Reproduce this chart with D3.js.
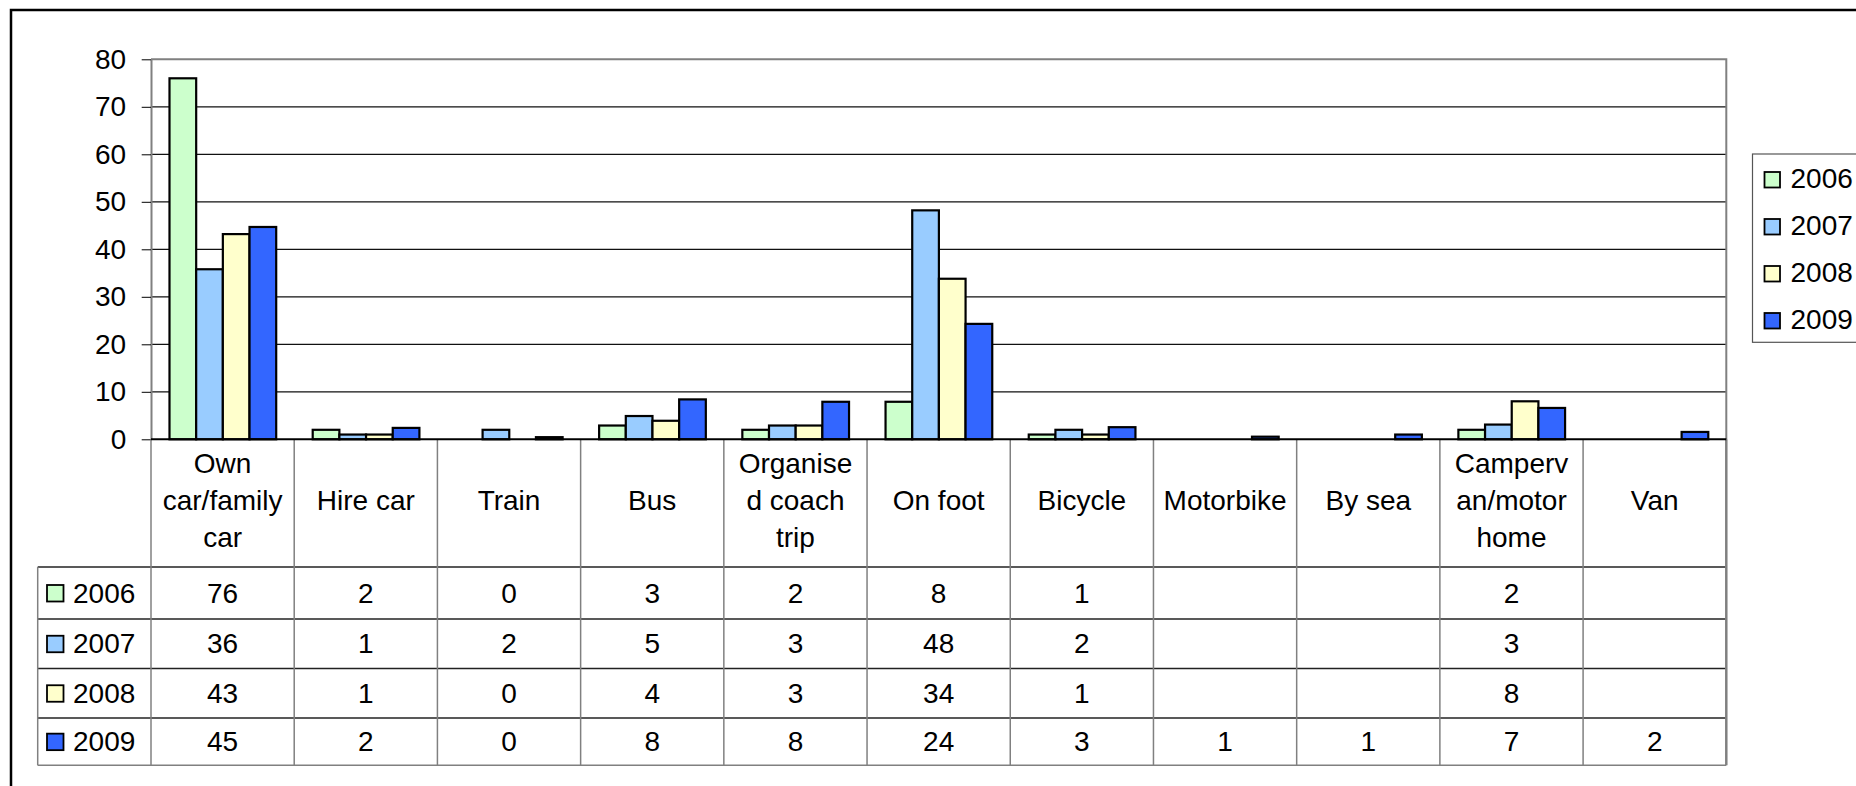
<!DOCTYPE html>
<html>
  <head>
    <meta charset="utf-8">
    <script type="text/javascript" src="https://d3js.org/d3.v7.min.js"></script>
    <title></title>
  </head>
  <style media="screen">
    body { margin: 0; background: #fff; }
    text { font-family: "Liberation Sans", Arial, sans-serif; fill: #000; }
  </style>
  <body>

    <script type="text/javascript">

    // categories, split into the lines they show in the table header
    var categories = ["Own car/family car", "Hire car", "Train", "Bus", "Organised coach trip",
                      "On foot", "Bicycle", "Motorbike", "By sea", "Campervan/motor home", "Van"];
    var categoryLines = [["Own", "car/family", "car"], ["Hire car"], ["Train"], ["Bus"],
                         ["Organise", "d coach", "trip"], ["On foot"], ["Bicycle"], ["Motorbike"],
                         ["By sea"], ["Camperv", "an/motor", "home"], ["Van"]];

    var years = ["2006", "2007", "2008", "2009"];
    var colors = ["#CCFFCC", "#99CCFF", "#FFFFCC", "#3366FF"];

    // values as plotted (table shows them rounded), null = no entry
    var values2006 = [76, 2, 0, 2.9, 2, 7.9, 1, null, null, 2, null];
    var values2007 = [35.8, 1, 2, 4.9, 2.9, 48.2, 2, null, null, 3.1, null];
    var values2008 = [43.2, 1, 0, 3.9, 2.9, 33.8, 1, null, null, 8, null];
    var values2009 = [44.7, 2.4, 0.45, 8.4, 7.9, 24.3, 2.55, 0.55, 1, 6.6, 1.55];
    var series = [values2006, values2007, values2008, values2009];

    var yTicks = [0, 10, 20, 30, 40, 50, 60, 70, 80];

    var plot = {left: 151, right: 1726.3, top: 59.3, bottom: 439.3};
    var tableLeft = 37.7;
    var rowLines = [567, 619, 668.5, 718, 765.3];
    var fontSize = 28;

    var fmt = d3.format(".0f");

    var svg = d3.select("body").append("svg")
        .attr("width", 1856)
        .attr("height", 786);

    var x = d3.scaleBand().domain(categories).range([plot.left, plot.right]);
    var x1 = d3.scaleBand().domain(years).range([18.5, 125.2]);
    var y = d3.scaleLinear().domain([0, 80]).range([plot.bottom, plot.top]);

    // outer frame (runs off the right and bottom edge)
    svg.append("rect")
        .attr("x", 11).attr("y", 10)
        .attr("width", 1900).attr("height", 900)
        .attr("fill", "none").attr("stroke", "#000").attr("stroke-width", 2.5);

    // gridlines
    svg.append("g").selectAll("line")
        .data(yTicks.filter(function(d) { return d > 0 && d < 80; }))
      .enter().append("line")
        .attr("x1", plot.left).attr("x2", plot.right)
        .attr("y1", function(d) { return y(d); })
        .attr("y2", function(d) { return y(d); })
        .attr("stroke", "#111").attr("stroke-width", 1.2);

    // plot border top & right
    svg.append("path")
        .attr("d", "M" + plot.left + "," + plot.top + "H" + plot.right + "V" + plot.bottom)
        .attr("fill", "none").attr("stroke", "#808080").attr("stroke-width", 2);

    // bars
    var groups = svg.append("g").selectAll("g")
        .data(categories)
      .enter().append("g")
        .attr("transform", function(d) { return "translate(" + x(d) + ",0)"; });

    groups.selectAll("rect")
        .data(function(d, i) {
          return years.map(function(yr, j) { return {year: yr, color: colors[j], value: series[j][i]}; })
            .filter(function(e) { return e.value !== null; });
        })
      .enter().append("rect")
        .attr("x", function(d) { return x1(d.year); })
        .attr("width", x1.bandwidth())
        .attr("y", function(d) { return y(d.value); })
        .attr("height", function(d) { return y(0) - y(d.value); })
        .attr("fill", function(d) { return d.color; })
        .attr("stroke", "#000").attr("stroke-width", 2.2);

    // y axis
    var yAxis = d3.axisLeft(y)
      .tickValues(yTicks)
      .tickSize(9.3)
      .tickSizeOuter(0)
      .tickPadding(15.5);

    var ya = svg.append("g")
        .attr("transform", "translate(" + plot.left + ",0)")
        .call(yAxis);
    ya.select(".domain").attr("stroke", "#808080").attr("stroke-width", 2);
    ya.selectAll(".tick line").attr("stroke", "#000");
    ya.selectAll(".tick text")
        .style("font-family", "'Liberation Sans', Arial, sans-serif")
        .attr("font-size", fontSize);

    // data table: horizontal lines
    var table = svg.append("g");
    table.selectAll("line.h")
        .data(rowLines)
      .enter().append("line")
        .attr("x1", tableLeft).attr("x2", plot.right)
        .attr("y1", function(d) { return d; }).attr("y2", function(d) { return d; })
        .attr("stroke", function(d, i) { return i === rowLines.length - 1 ? "#808080" : "#222"; })
        .attr("stroke-width", 1.5);

    // vertical lines
    var colEdges = categories.map(function(c) { return x(c); }).concat([plot.right]);
    table.selectAll("line.v")
        .data(colEdges)
      .enter().append("line")
        .attr("x1", function(d) { return d; }).attr("x2", function(d) { return d; })
        .attr("y1", plot.bottom).attr("y2", rowLines[rowLines.length - 1])
        .attr("stroke", "#808080")
        .attr("stroke-width", function(d, i) { return i === colEdges.length - 1 ? 2.5 : 1.5; });
    table.append("line")
        .attr("x1", tableLeft).attr("x2", tableLeft)
        .attr("y1", rowLines[0]).attr("y2", rowLines[rowLines.length - 1])
        .attr("stroke", "#808080").attr("stroke-width", 1.5);

    // x axis line
    svg.append("line")
        .attr("x1", plot.left).attr("x2", plot.right)
        .attr("y1", plot.bottom).attr("y2", plot.bottom)
        .attr("stroke", "#000").attr("stroke-width", 2);

    // category headers
    var lineH = 37.3;
    table.selectAll("text.cat")
        .data(categoryLines)
      .enter().append("text")
        .attr("text-anchor", "middle")
        .attr("font-size", fontSize)
        .attr("x", function(d, i) { return x(categories[i]) + x.bandwidth() / 2; })
        .attr("y", function(d) { return 510 - (d.length - 1) / 2 * lineH; })
        .each(function(d) {
          var t = d3.select(this);
          d.forEach(function(s, k) {
            t.append("tspan")
              .attr("x", t.attr("x"))
              .attr("dy", k === 0 ? 0 : lineH)
              .text(s);
          });
        });

    // table rows
    years.forEach(function(yr, j) {
      var top = rowLines[j], bot = rowLines[j + 1];
      var mid = (top + bot) / 2;
      table.append("rect")
        .attr("x", 47).attr("y", mid - 8)
        .attr("width", 16.5).attr("height", 16.5)
        .attr("fill", colors[j]).attr("stroke", "#000").attr("stroke-width", 1.8);
      table.append("text")
        .attr("x", 73).attr("y", mid + 9.5)
        .attr("font-size", fontSize)
        .text(yr);
      table.selectAll("text.v" + j)
          .data(series[j])
        .enter().append("text")
          .attr("text-anchor", "middle")
          .attr("font-size", fontSize)
          .attr("x", function(d, i) { return x(categories[i]) + x.bandwidth() / 2; })
          .attr("y", mid + 9.5)
          .text(function(d) { return d === null ? "" : fmt(d); });
    });

    // legend
    var legend = svg.append("g");
    legend.append("rect")
        .attr("x", 1752.5).attr("y", 154)
        .attr("width", 200).attr("height", 188.3)
        .attr("fill", "#fff").attr("stroke", "#555").attr("stroke-width", 1.2);
    years.forEach(function(yr, j) {
      var cy = 179.5 + j * 47;
      legend.append("rect")
        .attr("x", 1764.5).attr("y", cy - 7.5)
        .attr("width", 15.5).attr("height", 15.5)
        .attr("fill", colors[j]).attr("stroke", "#000").attr("stroke-width", 1.8);
      legend.append("text")
        .attr("x", 1790.5).attr("y", cy + 8)
        .attr("font-size", fontSize)
        .text(yr);
    });

    </script>

  </body>
</html>
